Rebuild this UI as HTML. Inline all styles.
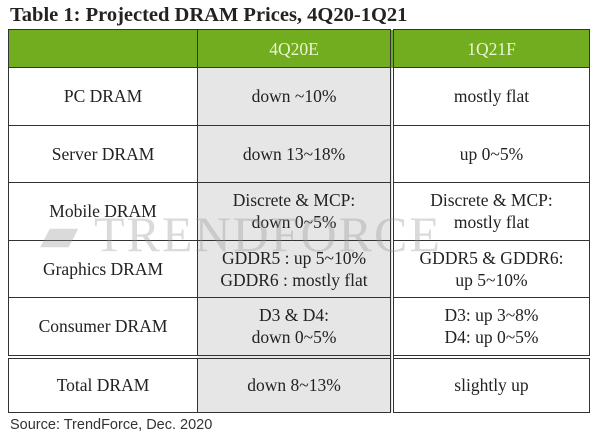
<!DOCTYPE html>
<html><head><meta charset="utf-8"><style>
body{margin:0;width:600px;height:440px;background:#fff;position:relative;overflow:hidden;font-family:"Liberation Serif",serif;color:#222}
.title{position:absolute;left:10px;top:4px;font-weight:bold;font-size:20.5px;white-space:nowrap}
table{position:absolute;left:8px;top:29px;border-collapse:collapse;width:582px}
td{border:1.5px solid #333;text-align:center;font-size:17.5px;line-height:22px;padding:0}
td.c1{width:188px}td.c2{width:192px;background:#e6e6e6;border-right:4px double #333}
tr.h td{background:#72ad1f;color:#e8f5d0;height:37px;font-size:17.5px}
tr.r td{height:56.5px}
tr.t td{height:53px;border-top:4px double #333}
.wm{position:absolute;left:40px;top:205px;font-size:50px;color:rgba(150,150,150,0.35);letter-spacing:2px;white-space:nowrap}
.src{position:absolute;left:10px;top:417px;font-family:"Liberation Sans",sans-serif;font-size:14.5px;color:#333}
</style></head><body>
<div class="title">Table 1: Projected DRAM Prices, 4Q20-1Q21</div>
<table>
<tr class="h"><td class="c1"></td><td class="c2" style="background:#72ad1f">4Q20E</td><td>1Q21F</td></tr>
<tr class="r"><td class="c1">PC DRAM</td><td class="c2">down ~10%</td><td>mostly flat</td></tr>
<tr class="r"><td class="c1">Server DRAM</td><td class="c2">down 13~18%</td><td>up 0~5%</td></tr>
<tr class="r"><td class="c1">Mobile DRAM</td><td class="c2">Discrete &amp; MCP:<br>down 0~5%</td><td>Discrete &amp; MCP:<br>mostly flat</td></tr>
<tr class="r"><td class="c1">Graphics DRAM</td><td class="c2">GDDR5 : up 5~10%<br>GDDR6 : mostly flat</td><td>GDDR5 &amp; GDDR6:<br>up 5~10%</td></tr>
<tr class="r"><td class="c1">Consumer DRAM</td><td class="c2">D3 &amp; D4:<br>down 0~5%</td><td>D3: up 3~8%<br>D4: up 0~5%</td></tr>
<tr class="t"><td class="c1">Total DRAM</td><td class="c2">down 8~13%</td><td>slightly up</td></tr>
</table>
<div class="wm">▰ TRENDFORCE</div>
<div class="src">Source: TrendForce, Dec. 2020</div>
</body></html>
